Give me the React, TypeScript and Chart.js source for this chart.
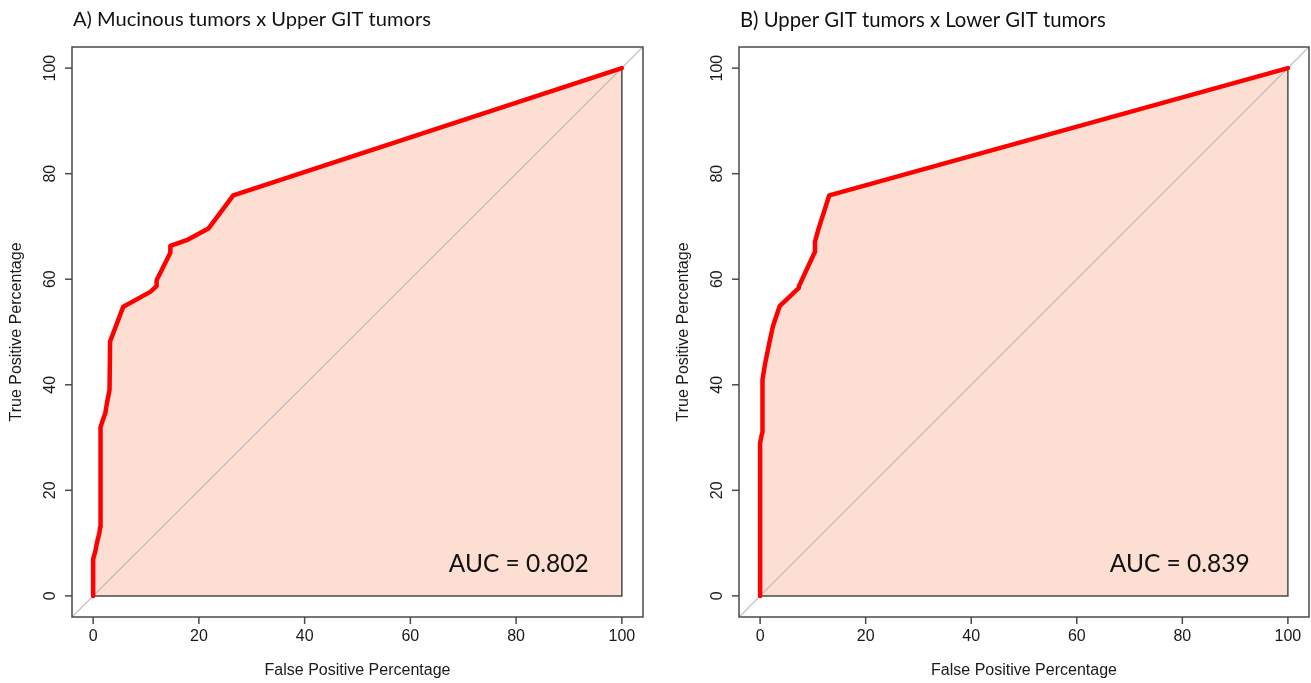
import React, { useEffect, useRef } from "react";
import { Chart, registerables } from "chart.js";

Chart.register(...registerables);

// ---------------- data ----------------
const tickValues = [0, 20, 40, 60, 80, 100];

const fprA = [0, 0, 0.4, 0.7, 1.2, 1.3, 1.4, 1.9, 2.3, 2.6, 3.1, 3.2, 5.7, 10.8, 12.0, 12.0, 14.6, 14.6, 17.7, 21.8, 26.5, 100];
const tprA = [0, 7, 8.4, 10, 12, 13, 32, 33.5, 34.6, 36.5, 39, 48.2, 54.8, 57.6, 58.7, 59.8, 65, 66.3, 67.4, 69.6, 75.9, 100];

const fprB = [0, 0, 0.3, 0.45, 0.45, 0.95, 1.8, 2.4, 3.7, 7.3, 7.4, 7.6, 10.1, 10.4, 10.4, 11.0, 13.1, 100];
const tprB = [0, 29, 30.5, 31, 41, 44, 48.2, 51, 54.9, 58.3, 58.8, 59.2, 64.6, 65.2, 67.1, 69.3, 75.9, 100];

const titleA = "A) Mucinous tumors x Upper GIT tumors";
const titleB = "B) Upper GIT tumors x Lower GIT tumors";
const aucA = "AUC = 0.802";
const aucB = "AUC = 0.839";
const xAxisTitle = "False Positive Percentage";
const yAxisTitle = "True Positive Percentage";

// ---------------- styling ----------------
const AXIS_MIN = -4;
const AXIS_MAX = 104;
const TICK_FONT = '"Liberation Sans", Arial, sans-serif';
const TITLE_FONT = 'Lato, "Open Sans", "Noto Sans", sans-serif';
const FRAME_COLOR = "#4a4a4a";
const TEXT_COLOR = "#1a1a1a";
const FILL_COLOR = "#fcdfd2";
const CURVE_COLOR = "#ff0000";
const DIAG_COLOR = "#b9b9b9";

type PanelProps = {
  fpr: number[];
  tpr: number[];
  title: string;
  auc: string;
  aucX: number;
  aucY: number;
  titleWidth: number;
  aucWidth: number;
  left: number;
  width: number;
  padding: { left: number; right: number; top: number; bottom: number };
};

function fitSize(ctx: CanvasRenderingContext2D, text: string, family: string, target: number) {
  const base = 20;
  ctx.font = `${base}px ${family}`;
  const w = ctx.measureText(text).width;
  return (base * target) / w;
}

const rAxesPlugin = {
  id: "rAxes",
  afterDatasetsDraw(chart: any, _args: any, opts: any) {
    const { ctx, chartArea: a } = chart;
    const xs = chart.scales.x;
    const ys = chart.scales.y;
    ctx.save();
    // box
    ctx.strokeStyle = FRAME_COLOR;
    ctx.lineWidth = 1.5;
    ctx.strokeRect(a.left, a.top, a.right - a.left, a.bottom - a.top);

    // x ticks
    ctx.fillStyle = TEXT_COLOR;
    ctx.font = `16px ${TICK_FONT}`;
    ctx.textAlign = "center";
    ctx.textBaseline = "middle";
    xs.ticks.forEach((t: any) => {
      const px = xs.getPixelForValue(t.value);
      ctx.beginPath();
      ctx.moveTo(px, a.bottom);
      ctx.lineTo(px, a.bottom + 7);
      ctx.stroke();
      ctx.fillText(String(t.value), px, a.bottom + 20);
    });
    // y ticks (rotated labels, R style)
    ys.ticks.forEach((t: any) => {
      const py = ys.getPixelForValue(t.value);
      ctx.beginPath();
      ctx.moveTo(a.left, py);
      ctx.lineTo(a.left - 7, py);
      ctx.stroke();
      ctx.save();
      ctx.translate(a.left - 21, py);
      ctx.rotate(-Math.PI / 2);
      ctx.fillText(String(t.value), 0, 0);
      ctx.restore();
    });

    // axis titles
    ctx.font = `16px ${TICK_FONT}`;
    ctx.fillText(xAxisTitle, (a.left + a.right) / 2, a.bottom + 54);
    ctx.save();
    ctx.translate(a.left - 55, (a.top + a.bottom) / 2);
    ctx.rotate(-Math.PI / 2);
    ctx.fillText(yAxisTitle, 0, 0);
    ctx.restore();

    // panel title
    ctx.fillStyle = "#111";
    const ts = fitSize(ctx, opts.title, TITLE_FONT, opts.titleWidth);
    ctx.font = `${ts}px ${TITLE_FONT}`;
    ctx.textAlign = "left";
    ctx.fillText(opts.title, a.left + 1, 20);

    // AUC label
    const as = fitSize(ctx, opts.auc, TITLE_FONT, opts.aucWidth);
    ctx.font = `${as}px ${TITLE_FONT}`;
    ctx.textAlign = "center";
    ctx.fillText(opts.auc, xs.getPixelForValue(opts.aucX), ys.getPixelForValue(opts.aucY));
    ctx.restore();
  },
};

function RocPanel(props: PanelProps) {
  const ref = useRef<HTMLCanvasElement>(null);
  useEffect(() => {
    const canvas = ref.current;
    if (!canvas) return;
    const { fpr, tpr } = props;
    const curve = fpr.map((x, i) => ({ x, y: tpr[i] }));
    const last = fpr.length - 1;
    const frame = [
      { x: fpr[0], y: 0 },
      { x: fpr[last], y: 0 },
      { x: fpr[last], y: tpr[last] },
    ];
    const diag = [
      { x: AXIS_MIN, y: AXIS_MIN },
      { x: AXIS_MAX, y: AXIS_MAX },
    ];
    const setTicks = (s: any) => {
      s.ticks = tickValues.map((v) => ({ value: v }));
    };
    const chart = new Chart(canvas, {
      type: "line",
      data: {
        datasets: [
          {
            data: curve,
            borderColor: CURVE_COLOR,
            borderWidth: 4.5,
            pointRadius: 0,
            fill: false,
            tension: 0,
            borderJoinStyle: "round",
            borderCapStyle: "round",
            order: 0,
          },
          {
            data: diag,
            borderColor: DIAG_COLOR,
            borderWidth: 1.2,
            pointRadius: 0,
            fill: false,
            order: 1,
          },
          {
            data: frame,
            borderColor: FRAME_COLOR,
            borderWidth: 1.5,
            pointRadius: 0,
            fill: false,
            order: 2,
          },
          {
            data: curve,
            borderColor: "rgba(0,0,0,0)",
            borderWidth: 0,
            backgroundColor: FILL_COLOR,
            pointRadius: 0,
            fill: "origin",
            order: 3,
          },
        ] as any,
      },
      options: {
        animation: false,
        responsive: false,
        maintainAspectRatio: false,
        events: [],
        layout: { padding: props.padding },
        plugins: {
          legend: { display: false },
          tooltip: { enabled: false },
          rAxes: {
            title: props.title,
            auc: props.auc,
            aucX: props.aucX,
            aucY: props.aucY,
            titleWidth: props.titleWidth,
            aucWidth: props.aucWidth,
          },
        } as any,
        scales: {
          x: { type: "linear", min: AXIS_MIN, max: AXIS_MAX, display: false, afterBuildTicks: setTicks },
          y: { type: "linear", min: AXIS_MIN, max: AXIS_MAX, display: false, afterBuildTicks: setTicks },
        },
      },
      plugins: [rAxesPlugin],
    });
    return () => chart.destroy();
  }, []);
  return (
    <canvas
      ref={ref}
      width={props.width}
      height={683}
      style={{ position: "absolute", left: props.left, top: 0, width: props.width, height: 683, display: "block" }}
    />
  );
}

export default function App() {
  return (
    <div style={{ position: "absolute", left: 0, top: 0, width: 1311, height: 683, background: "#fff", overflow: "hidden" }}>
      <RocPanel
        fpr={fprA}
        tpr={tprA}
        title={titleA}
        auc={aucA}
        aucX={80.5}
        aucY={6}
        titleWidth={358}
        aucWidth={140}
        left={0}
        width={655}
        padding={{ left: 72, right: 12, top: 47, bottom: 66 }}
      />
      <RocPanel
        fpr={fprB}
        tpr={tprB}
        title={titleB}
        auc={aucB}
        aucX={79.5}
        aucY={6}
        titleWidth={366}
        aucWidth={140}
        left={655}
        width={656}
        padding={{ left: 84, right: 2, top: 47, bottom: 66 }}
      />
    </div>
  );
}
